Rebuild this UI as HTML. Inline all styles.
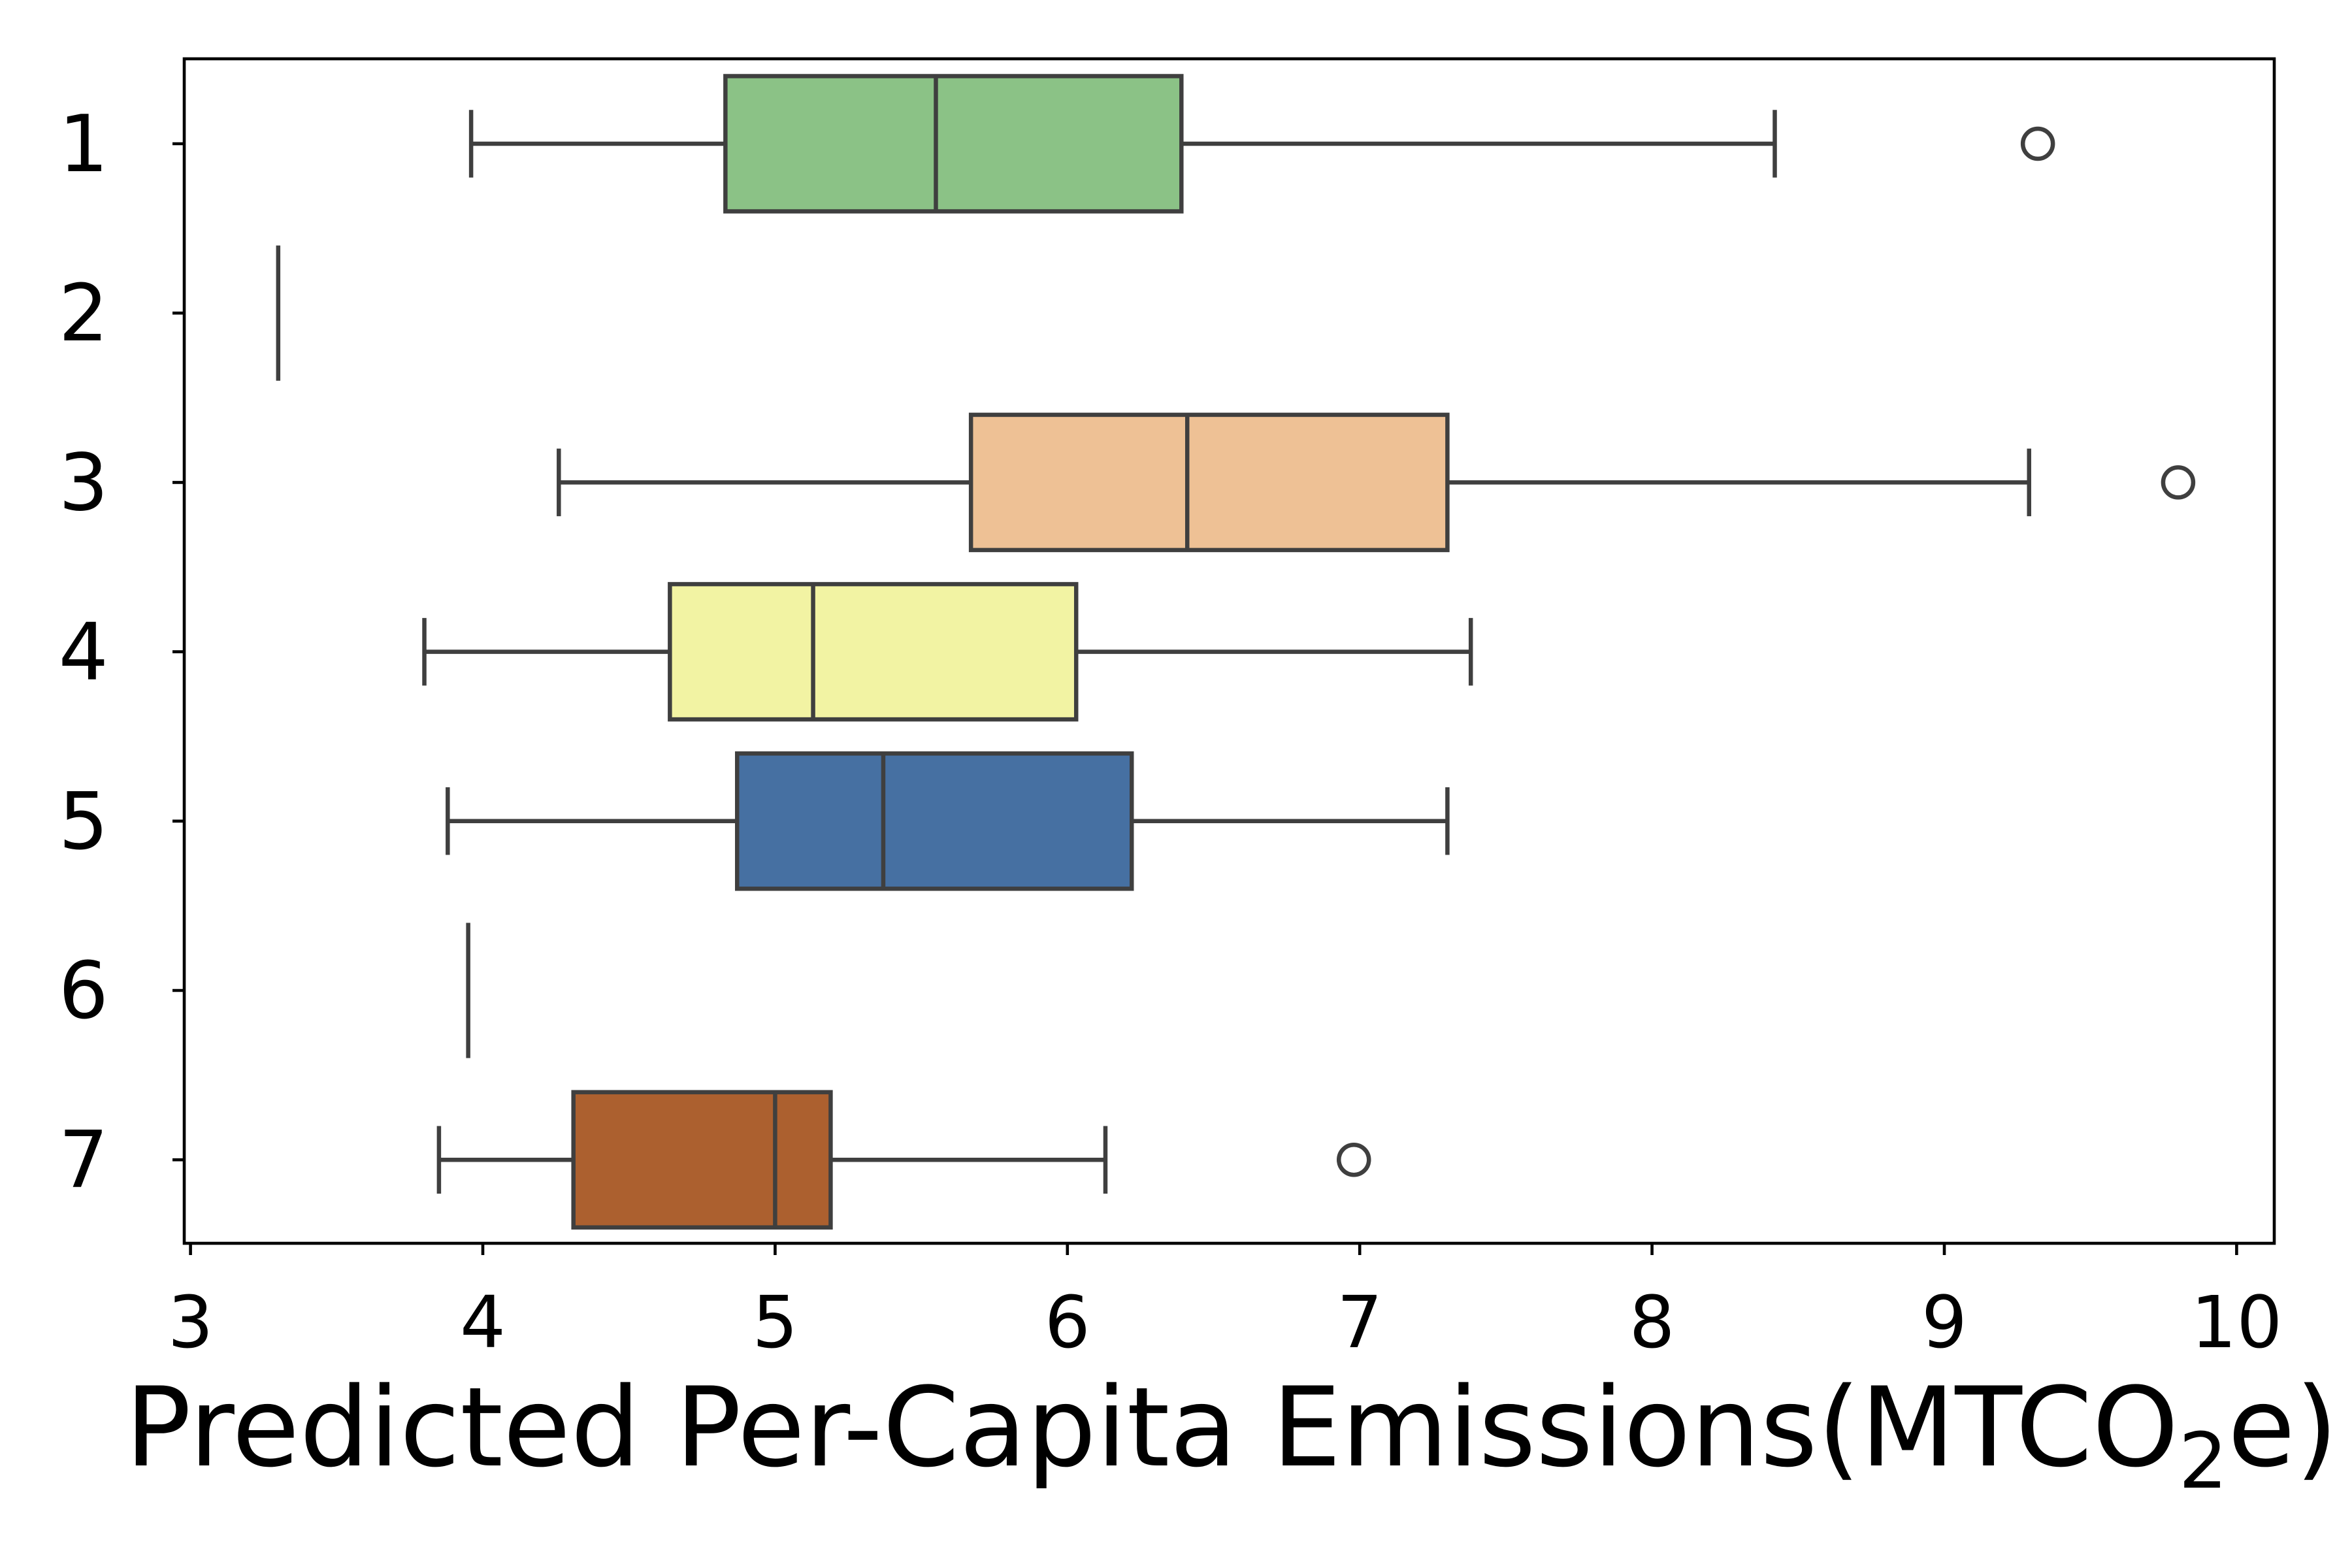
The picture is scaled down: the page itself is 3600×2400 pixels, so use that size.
<!DOCTYPE html>
<html><head><meta charset="utf-8"><style>body{margin:0;background:#fff}svg{display:block}</style></head>
<body>
<svg id="chart" width="3600" height="2400" viewBox="0 0 3600 2400" xmlns="http://www.w3.org/2000/svg" font-family="DejaVu Sans, Liberation Sans, sans-serif"></svg>
<script>
const categories = ["1","2","3","4","5","6","7"];
const whiskerLow = [3.96, 3.30, 4.26, 3.80, 3.88, 3.95, 3.85];
const q1Values   = [4.83, 3.30, 5.67, 4.64, 4.87, 3.95, 4.31];
const medians    = [5.55, 3.30, 6.41, 5.13, 5.37, 3.95, 5.00];
const q3Values   = [6.39, 3.30, 7.30, 6.03, 6.22, 3.95, 5.19];
const whiskerHigh= [8.42, 3.30, 9.29, 7.38, 7.30, 3.95, 6.13];
const outliers   = [[9.32], [], [9.80], [], [], [], [6.98]];
const boxColors  = ["#8bc286","#eec195","#eec195","#f2f3a3","#4670a2","#ac602f","#ac602f"];
const xTicks = [3,4,5,6,7,8,9,10];

const svg = document.getElementById('chart');
const NS = 'http://www.w3.org/2000/svg';
const L=282, R=3481, T=90, B=1903;
const x = v => 291.6 + (v-3)*447.4;
const y = i => 220 + i*259.2;
const EDGE = '#3f3f3f', LW = 6.5, BH = 207;
function mk(tag, attrs, parent){const e=document.createElementNS(NS,tag);for(const k in attrs)e.setAttribute(k,attrs[k]);(parent||svg).appendChild(e);return e;}

const bg = mk('rect',{x:L,y:T,width:R-L,height:B-T,fill:'#fff'});



categories.forEach((c,i)=>{
  const g = mk('g',{});
  
  
  const cy = y(i);
  const single = q1Values[i]===q3Values[i] && whiskerLow[i]===whiskerHigh[i];
  if (single) {
    mk('line',{x1:x(medians[i]),x2:x(medians[i]),y1:cy-BH/2,y2:cy+BH/2,stroke:EDGE,'stroke-width':LW},g);
    return;
  }
  mk('line',{x1:x(whiskerLow[i]),x2:x(q1Values[i]),y1:cy,y2:cy,stroke:EDGE,'stroke-width':LW},g);
  mk('line',{x1:x(q3Values[i]),x2:x(whiskerHigh[i]),y1:cy,y2:cy,stroke:EDGE,'stroke-width':LW},g);
  mk('line',{x1:x(whiskerLow[i]),x2:x(whiskerLow[i]),y1:cy-BH/4,y2:cy+BH/4,stroke:EDGE,'stroke-width':LW},g);
  mk('line',{x1:x(whiskerHigh[i]),x2:x(whiskerHigh[i]),y1:cy-BH/4,y2:cy+BH/4,stroke:EDGE,'stroke-width':LW},g);
  const box = mk('rect',{x:x(q1Values[i]),y:cy-BH/2,width:x(q3Values[i])-x(q1Values[i]),height:BH,fill:boxColors[i],stroke:EDGE,'stroke-width':LW},g);
  
  
  mk('line',{x1:x(medians[i]),x2:x(medians[i]),y1:cy-BH/2,y2:cy+BH/2,stroke:EDGE,'stroke-width':LW},g);
  outliers[i].forEach(v=>{
    const o = mk('circle',{cx:x(v),cy:cy,r:23,fill:'none',stroke:EDGE,'stroke-width':LW},g);
    
    
  });
});

const sp = mk('rect',{x:L,y:T,width:R-L,height:B-T,fill:'none',stroke:'#000','stroke-width':4.6});



categories.forEach((c,i)=>{
  mk('line',{x1:L-18,x2:L,y1:y(i),y2:y(i),stroke:'#000','stroke-width':4.6});
  const t = mk('text',{x:166,y:y(i)+42,'text-anchor':'end','font-size':120,fill:'#000'});
  t.textContent=c;
  
  
});
xTicks.forEach(v=>{
  mk('line',{x1:x(v),x2:x(v),y1:B,y2:B+18,stroke:'#000','stroke-width':4.6});
  const t = mk('text',{x:x(v),y:2062,'text-anchor':'middle','font-size':110,fill:'#000'});
  t.textContent=v;
  
  
});
const xl = mk('text',{x:1885,y:2243,'text-anchor':'middle','font-size':168,fill:'#000'});
xl.innerHTML='Predicted Per-Capita Emissions(MTCO<tspan font-size="118" dy="34">2</tspan><tspan dy="-34">e)</tspan>';


</script>
</body></html>
